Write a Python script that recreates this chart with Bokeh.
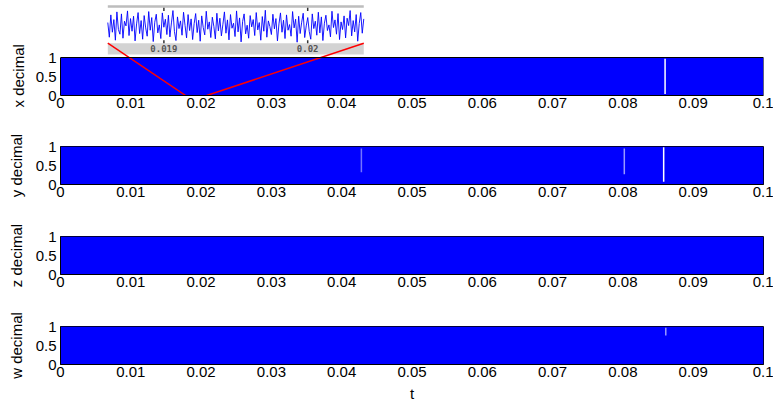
from bokeh.plotting import figure
from bokeh.layouts import column
from bokeh.models import Range1d, FixedTicker, Span, ColumnDataSource, Title
from bokeh.embed import file_html
from bokeh.resources import INLINE
from bokeh.core.properties import value

# ---------------- data ----------------
t_start, t_end = 0.0, 0.1
x_ticks = [0, 0.01, 0.02, 0.03, 0.04, 0.05, 0.06, 0.07, 0.08, 0.09, 0.1]
x_tick_labels = ["0", "0.01", "0.02", "0.03", "0.04", "0.05", "0.06", "0.07", "0.08", "0.09", "0.1"]
y_ticks = [0, 0.5, 1]
y_tick_labels = ["0", "0.5", "1"]
panel_names = ["x decimal", "y decimal", "z decimal", "w decimal"]

# envelope of the (very dense) chaotic sequences in each panel
env_t = [0.0, 0.1]
x_lo, x_hi = [0.0, 0.0], [1.0, 1.0]
y_lo, y_hi = [0.0, 0.0], [1.0, 1.0]
z_lo, z_hi = [0.0, 0.0], [1.0, 1.0]
w_lo, w_hi = [0.0, 0.0], [1.0, 1.0]

# visible white gaps in the dense signals
x_gap_t, x_gap_lo, x_gap_hi, x_gap_a = [0.0860], [0.04], [0.97], [1.0]
y_gap_t, y_gap_lo, y_gap_hi, y_gap_a = [0.0428, 0.0802, 0.0858], [0.32, 0.27, 0.07], [0.95, 0.95, 0.98], [0.45, 0.6, 1.0]
z_gap_t, z_gap_lo, z_gap_hi, z_gap_a = [], [], [], []
w_gap_t, w_gap_lo, w_gap_hi, w_gap_a = [0.0861], [0.76], [0.97], [0.6]

# zoomed inset of the x sequence
inset_range = [0.01861, 0.02039]
inset_ticks = [0.019, 0.02]
inset_tick_labels = ["0.019", "0.02"]
inset_vals = [
    0.62, 0.18, 0.85, 0.33, 0.71, 0.09, 0.94, 0.41, 0.27, 0.88, 0.15, 0.66, 0.52, 0.97, 0.23, 0.74, 0.36, 0.81, 0.07, 0.58,
    0.92, 0.29, 0.68, 0.12, 0.83, 0.46, 0.21, 0.95, 0.39, 0.77, 0.05, 0.63, 0.87, 0.31, 0.55, 0.14, 0.91, 0.48, 0.72, 0.26,
    0.84, 0.19, 0.61, 0.98, 0.35, 0.08, 0.79, 0.44, 0.67, 0.24, 0.93, 0.53, 0.16, 0.86, 0.38, 0.73, 0.11, 0.59, 0.89, 0.32,
    0.69, 0.06, 0.82, 0.47, 0.25, 0.96, 0.42, 0.64, 0.17, 0.78, 0.51, 0.13, 0.90, 0.37, 0.75, 0.22, 0.57, 0.94, 0.30, 0.70,
    0.10, 0.86, 0.45, 0.60, 0.20, 0.97, 0.34, 0.76, 0.04, 0.65, 0.88, 0.28, 0.54, 0.15, 0.83, 0.49, 0.71, 0.23, 0.92, 0.40,
    0.62, 0.09, 0.80, 0.36, 0.99, 0.18, 0.67, 0.50, 0.26, 0.87, 0.43, 0.74, 0.07, 0.58, 0.91, 0.33, 0.69, 0.14, 0.85, 0.39,
    0.56, 0.21, 0.95, 0.46, 0.72, 0.03, 0.81, 0.29, 0.63, 0.90, 0.17, 0.52, 0.77, 0.35, 0.12, 0.88, 0.44, 0.66, 0.24, 0.93,
    0.31, 0.79, 0.08, 0.60, 0.84, 0.38, 0.55, 0.19, 0.96, 0.47, 0.70, 0.27, 0.89, 0.11, 0.64, 0.41, 0.82, 0.16, 0.75, 0.53,
    0.98, 0.22, 0.68, 0.34, 0.86, 0.06, 0.59, 0.92, 0.30, 0.73,
]
# where the zoom-lines meet the time axis
zoom_marks_t = [0.0178, 0.0208]

# ---------------- style / layout ----------------
FONT = "Liberation Sans"
BLUE = "#0000ff"
FRAME_W = 703
FRAME_H = 38
LEFT, RIGHT = 60, 10
FIG1_FRAME_H = 95                 # panel 1 frame also holds the inset above it
TOPS = [0, 15, 16, 16]
BOTS = [36, 36, 36, 42]

x_over = {t: s for t, s in zip(x_ticks, x_tick_labels)}
y_over = {t: s for t, s in zip(y_ticks, y_tick_labels)}


def style_axes(p, label, last):
    p.grid.grid_line_color = None
    xa = p.xaxis[0]
    ya = p.yaxis[0]
    for ax in (xa, ya):
        ax.major_tick_in = 0
        ax.major_tick_out = 0
        ax.minor_tick_in = 0
        ax.minor_tick_out = 0
        ax.axis_line_color = "black"
        ax.major_label_text_font = FONT
        ax.major_label_text_font_size = "15px"
        ax.major_label_text_color = "black"
        ax.axis_label_text_font = FONT
        ax.axis_label_text_font_size = "15px"
        ax.axis_label_text_font_style = "normal"
        ax.axis_label_text_color = "black"
    xa.ticker = FixedTicker(ticks=x_ticks)
    xa.major_label_overrides = x_over
    xa.major_label_standoff = 2
    ya.ticker = FixedTicker(ticks=y_ticks)
    ya.major_label_overrides = y_over
    ya.major_label_standoff = 4
    if label:
        ya.axis_label = label
        ya.axis_label_standoff = 8
    if last:
        xa.axis_label = "t"
        xa.axis_label_standoff = 5


def add_signal(p, lo, hi, gt, glo, ghi, ga):
    p.varea(x=env_t, y1=lo, y2=hi, fill_color=BLUE)
    if gt:
        src = ColumnDataSource(dict(t=gt, lo=glo, hi=ghi, a=ga))
        p.segment(x0="t", y0="lo", x1="t", y1="hi", source=src,
                  line_color="white", line_alpha="a", line_width=1.5)


signals = [
    (x_lo, x_hi, x_gap_t, x_gap_lo, x_gap_hi, x_gap_a),
    (y_lo, y_hi, y_gap_t, y_gap_lo, y_gap_hi, y_gap_a),
    (z_lo, z_hi, z_gap_t, z_gap_lo, z_gap_hi, z_gap_a),
    (w_lo, w_hi, w_gap_t, w_gap_lo, w_gap_hi, w_gap_a),
]

figs = []
for i, name in enumerate(panel_names):
    first = i == 0
    last = i == len(panel_names) - 1
    fh = FIG1_FRAME_H if first else FRAME_H
    y_top = fh / FRAME_H
    p = figure(frame_width=FRAME_W, frame_height=fh,
               x_range=Range1d(t_start, t_end), y_range=Range1d(0, y_top),
               output_backend="svg", toolbar_location=None,
               min_border_left=LEFT, min_border_right=RIGHT,
               min_border_top=TOPS[i], min_border_bottom=BOTS[i],
               background_fill_color="white", border_fill_color="white")
    style_axes(p, None if first else name, last)
    add_signal(p, *signals[i])
    if first:
        p.outline_line_color = None
        p.yaxis[0].bounds = (0, 1)
        p.add_layout(Span(location=1, dimension="width", line_color="black", line_width=1))
        p.segment(x0=[t_end], y0=[0], x1=[t_end], y1=[1], line_color="black", line_width=1)
        # y label of panel 1, centred on the 0..1 part of the frame (not on the inset)
        p.add_layout(Title(text=name, align="left", offset=-12, vertical_align="middle",
                           standoff=10, text_font=FONT, text_font_size="15px",
                           text_font_style="normal", text_color="black"), "left")

        # inset placement in panel coordinates
        ins_x0, ins_x1 = 0.00673, 0.04314
        ys0, ys1 = -0.339, 1.141
        ins_y0, ins_y1 = 1.079, 2.376
        ins = p.subplot(x_source=Range1d(*inset_range), y_source=Range1d(ys0, ys1),
                        x_target=Range1d(ins_x0, ins_x1), y_target=Range1d(ins_y0, ins_y1))
        ins.quad(left=[inset_range[0]], right=[inset_range[1]], bottom=[0], top=[1.063],
                 fill_color="white", line_color=None)
        ins.quad(left=[inset_range[0]], right=[inset_range[1]], bottom=[ys0], top=[0],
                 fill_color="#d3d3d3", line_color=None)
        ins.quad(left=[inset_range[0]], right=[inset_range[1]], bottom=[1.063], top=[ys1],
                 fill_color="#bdbdbd", line_color=None)
        n = len(inset_vals)
        dt = (inset_range[1] - inset_range[0]) / (n - 1)
        inset_t = [inset_range[0] + k * dt for k in range(n)]
        ins.line(x=inset_t, y=inset_vals, line_color=BLUE, line_width=1, line_alpha=0.9)
        ins.segment(x0=inset_ticks, y0=[1.063] * 2, x1=inset_ticks, y1=[0.97] * 2,
                    line_color="#333333", line_width=1.5)
        ins.segment(x0=inset_ticks, y0=[0] * 2, x1=inset_ticks, y1=[0.09] * 2,
                    line_color="#333333", line_width=1.5)
        ins.text(x=inset_ticks, y=[-0.17] * 2, text=inset_tick_labels,
                 text_font=value("DejaVu Sans Mono"), text_font_size="9px",
                 text_font_style="bold", text_color="#555555",
                 text_align="center", text_baseline="middle")
        # red zoom lines from inset corners to the time axis
        y_start = ins_y0 + (0 - ys0) / (ys1 - ys0) * (ins_y1 - ins_y0)
        p.segment(x0=[ins_x0, ins_x1], y0=[y_start, y_start], x1=zoom_marks_t, y1=[0, 0],
                  line_color="red", line_width=1.5)
    else:
        p.outline_line_color = "black"
        p.outline_line_width = 1
    figs.append(p)

layout = column(*figs, spacing=0)
open("out.html", "w").write(file_html(layout, INLINE))
